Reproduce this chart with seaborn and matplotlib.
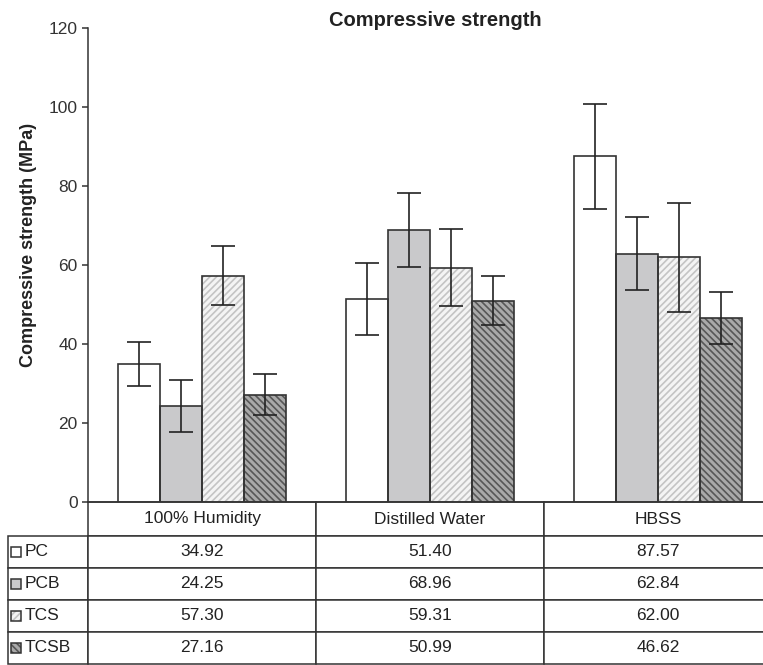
import numpy as np
import pandas as pd
import matplotlib
matplotlib.use('Agg')
import matplotlib.pyplot as plt
import seaborn as sns
from matplotlib.patches import Rectangle

# ---------------- data ----------------
conditions = ['100% Humidity', 'Distilled Water', 'HBSS']
materials = ['PC', 'PCB', 'TCS', 'TCSB']
pc = [34.92, 51.40, 87.57]
pcb = [24.25, 68.96, 62.84]
tcs = [57.30, 59.31, 62.00]
tcsb = [27.16, 50.99, 46.62]
pc_err = [5.5, 9.2, 13.3]
pcb_err = [6.6, 9.4, 9.3]
tcs_err = [7.4, 9.8, 13.8]
tcsb_err = [5.1, 6.2, 6.6]
y_ticks = [0, 20, 40, 60, 80, 100, 120]
title = 'Compressive strength'
ylabel = 'Compressive strength (MPa)'

values = {'PC': pc, 'PCB': pcb, 'TCS': tcs, 'TCSB': tcsb}
errors = {'PC': pc_err, 'PCB': pcb_err, 'TCS': tcs_err, 'TCSB': tcsb_err}

rows = []
for m in materials:
    for c, v in zip(conditions, values[m]):
        rows.append({'condition': c, 'material': m, 'value': v})
df = pd.DataFrame(rows)

# ---------------- style ----------------
sns.set_style('ticks')
plt.rcParams['font.family'] = ['Liberation Sans', 'DejaVu Sans']
plt.rcParams['hatch.linewidth'] = 1.2
plt.rcParams['text.color'] = '#222222'
plt.rcParams['axes.labelcolor'] = '#222222'
plt.rcParams['ytick.color'] = '#333333'

face = {'PC': '#ffffff', 'PCB': '#c9c9cb', 'TCS': '#f4f4f4', 'TCSB': '#a9a9a9'}
hatch = {'PC': None, 'PCB': None, 'TCS': '/////', 'TCSB': '\\\\\\\\\\'}
hatch_col = {'PC': '#333333', 'PCB': '#333333', 'TCS': '#c4c4c4', 'TCSB': '#575757'}
line_col = '#333333'

W, H = 763, 665
fig = plt.figure(figsize=(W / 100, H / 100), dpi=100)
ax_l, ax_r, ax_t, ax_b = 88, 772, 28.3, 501.7
ax = fig.add_axes([ax_l / W, 1 - ax_b / H, (ax_r - ax_l) / W, (ax_b - ax_t) / H])

sns.barplot(data=df, x='condition', y='value', hue='material', order=conditions,
            hue_order=materials, palette=face, errorbar=None, width=0.737,
            saturation=1, legend=False, ax=ax)

for container, m in zip(ax.containers, materials):
    for bar in container:
        bar.set_linewidth(0)
        if hatch[m]:
            bar.set_edgecolor(hatch_col[m])
            bar.set_hatch(hatch[m])
        ax.add_patch(Rectangle(bar.get_xy(), bar.get_width(), bar.get_height(),
                               fill=False, edgecolor=line_col, linewidth=1.2, zorder=3))
    xs = [b.get_x() + b.get_width() / 2 for b in container]
    ax.errorbar(xs, values[m], yerr=errors[m], fmt='none', ecolor='#222222',
                elinewidth=1.2, capsize=8.5, capthick=1.2, zorder=4)

ax.set_ylim(0, 120)
ax.set_xlim(-0.5, 2.5)
ax.set_yticks(y_ticks)
ax.set_yticklabels([str(t) for t in y_ticks], fontsize=12.5)
ax.tick_params(axis='y', length=4.5, width=1.1, direction='out', pad=3)
ax.set_xticks([])
ax.set_xlabel('')
ax.set_ylabel(ylabel, fontsize=13, fontweight='bold')
ax.yaxis.set_label_coords((37 - ax_l) / (ax_r - ax_l), (ax_b - 245) / (ax_b - ax_t))
for s in ['top', 'right']:
    ax.spines[s].set_visible(False)
for s in ['left', 'bottom']:
    ax.spines[s].set_color(line_col)
    ax.spines[s].set_linewidth(1.1)

fig.text(435 / W, 1 - 20 / H, title, ha='center', va='center', fontsize=14.5,
         fontweight='bold', color='#222222')

# ---------------- table ----------------
aw, ah = ax_r - ax_l, ax_b - ax_t
tab_top, tab_bot = 502, 664
hdr_h, row_h, lab_w, col_w = 34, 32, 80, 228
cell_text = [[f'{v:.2f}' for v in values[m]] for m in materials]
tbl = ax.table(cellText=cell_text, rowLabels=materials,
               colLabels=conditions, cellLoc='center', rowLoc='left',
               bbox=[0, -(tab_bot - ax_b) / ah, 1, (tab_bot - tab_top) / ah])
tbl._autoColumns = []
tbl.auto_set_font_size(False)
tbl.set_fontsize(12.5)
for (r, c), cell in tbl.get_celld().items():
    cell.set_edgecolor(line_col)
    cell.set_linewidth(1.1)
    cell.set_width((lab_w if c == -1 else col_w) / aw)
    cell.set_height((hdr_h if r == 0 else row_h) / ah)
    cell.get_text().set_color('#222222')
    if c == -1:
        cell.PAD = 17 / lab_w

# legend keys in the row-label cells
for i, m in enumerate(materials):
    yc = tab_top + hdr_h + row_h * (i + 0.5)
    x0 = (11 - ax_l) / aw
    y0 = (ax_b - (yc + 5)) / ah
    kw, kh = 10 / aw, 10 / ah
    key = Rectangle((x0, y0), kw, kh, transform=ax.transAxes, clip_on=False,
                    facecolor=face[m], edgecolor=hatch_col[m] if hatch[m] else 'none',
                    hatch=hatch[m], linewidth=0, zorder=5)
    ax.add_patch(key)
    ax.add_patch(Rectangle((x0, y0), kw, kh, transform=ax.transAxes, clip_on=False,
                           fill=False, edgecolor=line_col, linewidth=1.1, zorder=6))

fig.savefig('out.png', dpi=100)
